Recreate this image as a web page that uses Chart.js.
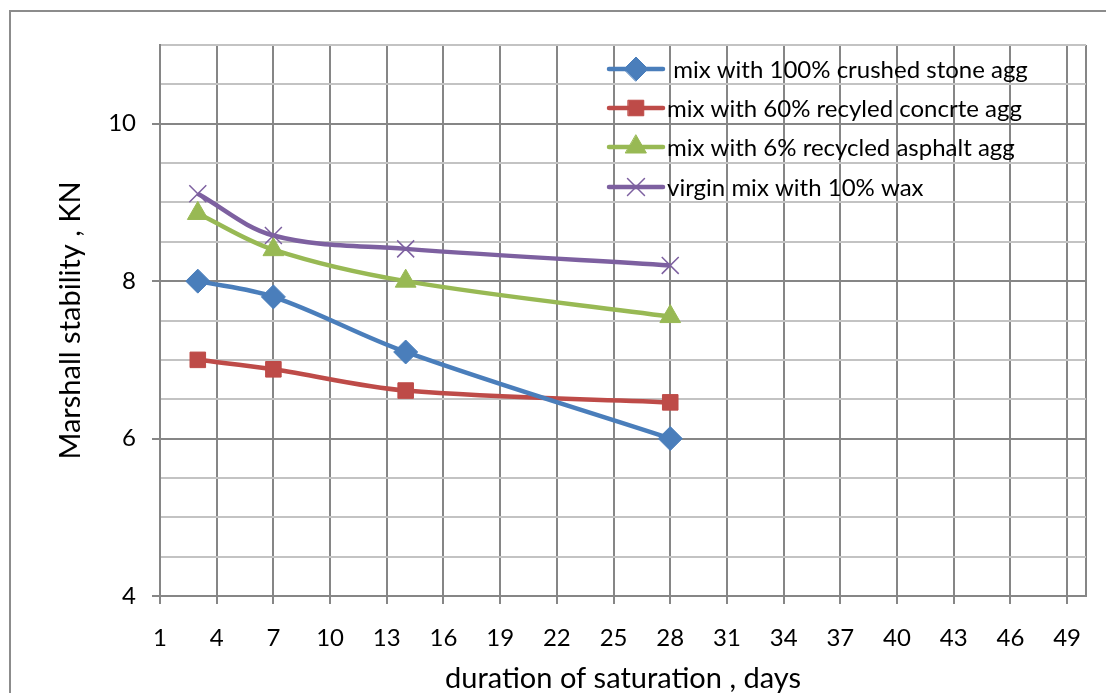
<!DOCTYPE html>
<html>
<head>
<meta charset="utf-8">
<script src="https://cdn.jsdelivr.net/npm/chart.js@4"></script>
<style>
  body { margin: 0; background: #fff; }
  #wrap { position: relative; width: 1106px; height: 693px; overflow: hidden; }
  #frame { position: absolute; left: 9px; top: 10px; width: 1200px; height: 800px;
           border-left: 2px solid #8c8c8c; border-top: 2px solid #8c8c8c; }
  canvas { position: absolute; left: 0; top: 0; }
</style>
</head>
<body>
<div id="wrap">
  <div id="frame"></div>
  <canvas id="chart1" width="1106" height="693"></canvas>
</div>
<script>
// duration of saturation (days)
const days = [3, 7, 14, 28];

// Marshall stability, KN
const crushedStone = [8.0, 7.8, 7.1, 6.0];
const recycledConcrete = [7.0, 6.88, 6.61, 6.46];
const recycledAsphalt = [8.86, 8.4, 8.0, 7.55];
const virginWax = [9.11, 8.58, 8.41, 8.2];

const seriesNames = [
  " mix with 100% crushed stone agg",
  "mix with 60% recyled concrte agg",
  "mix with 6% recycled asphalt agg",
  "virgin mix with 10% wax",
];

// axis ticks
const xTicks = [1, 4, 7, 10, 13, 16, 19, 22, 25, 28, 31, 34, 37, 40, 43, 46, 49];
const xMin = 1, xMax = 50;
const yMin = 4, yMax = 11, yLabelStep = 2, yGridStep = 0.5;

const FONT = "Lato, 'Open Sans', sans-serif";

function pts(ys) {
  return days.map((d, i) => ({ x: d, y: ys[i] }));
}

// legend drawn inside the plot, like the original
const insideLegend = {
  id: "insideLegend",
  afterDraw(chart) {
    const ctx = chart.ctx;
    const x0 = 609, x1 = 663, tx = 667;
    const rows = [69, 108, 147, 187];
    ctx.save();
    chart.data.datasets.forEach((ds, i) => {
      const y = rows[i];
      ctx.strokeStyle = ds.borderColor;
      ctx.lineWidth = 4.5;
      ctx.lineCap = "round";
      ctx.beginPath();
      ctx.moveTo(x0, y);
      ctx.lineTo(x1, y);
      ctx.stroke();
      ctx.fillStyle = ds.pointBackgroundColor;
      ctx.strokeStyle = ds.pointBorderColor;
      ctx.lineWidth = ds.pointBorderWidth;
      Chart.helpers.drawPoint(ctx, {
        pointStyle: ds.pointStyle,
        radius: ds.pointRadius,
        borderWidth: ds.pointBorderWidth,
        rotation: 0,
      }, (x0 + x1) / 2, y);
      ctx.fillStyle = "#000";
      ctx.font = "24px " + FONT;
      ctx.textBaseline = "middle";
      ctx.fillText(ds.label, tx, y + 1);
    });
    ctx.restore();
  },
};

const colors = ["#4a7ebb", "#be4b48", "#98b954", "#7d60a0"];
const styles = ["rectRot", "rect", "triangle", "crossRot"];
const radii = [12, 11, 12, 12];
const values = [crushedStone, recycledConcrete, recycledAsphalt, virginWax];

const datasets = values.map((v, i) => ({
  label: seriesNames[i],
  data: pts(v),
  borderColor: colors[i],
  backgroundColor: colors[i],
  pointBackgroundColor: colors[i],
  pointBorderColor: colors[i],
  pointStyle: styles[i],
  pointRadius: radii[i],
  pointBorderWidth: i === 3 ? 1.5 : 1,
  borderWidth: 4.5,
  tension: 0.35,
  fill: false,
}));

const majorGrid = "#868686";
const minorGrid = "#c3c3c3";

new Chart(document.getElementById("chart1").getContext("2d"), {
  type: "line",
  data: { datasets: datasets },
  plugins: [insideLegend],
  options: {
    responsive: false,
    animation: false,
    layout: { padding: { top: 45, right: 18, left: 0, bottom: 0 } },
    plugins: { legend: { display: false }, tooltip: { enabled: false } },
    scales: {
      x: {
        type: "linear",
        min: xMin,
        max: xMax,
        afterBuildTicks(scale) {
          scale.ticks = xTicks.concat([xMax]).map((v) => ({ value: v }));
        },
        afterFit(scale) { scale.height = 97; },
        ticks: {
          autoSkip: false,
          maxRotation: 0,
          padding: 20,
          color: "#000",
          font: { family: FONT, size: 24 },
          callback: (v) => (xTicks.includes(v) ? String(v) : ""),
        },
        grid: {
          color: majorGrid,
          lineWidth: 2,
          tickLength: 8,
          tickColor: (c) => (c.tick && xTicks.includes(c.tick.value) ? majorGrid : "rgba(0,0,0,0)"),
        },
        border: { color: majorGrid, width: 2 },
        title: {
          display: true,
          text: "duration of saturation , days",
          color: "#000",
          font: { family: FONT, size: 29, lineHeight: 1 },
          padding: { top: 0, bottom: 0 },
        },
      },
      y: {
        min: yMin,
        max: yMax,
        afterFit(scale) { scale.width = 160; },
        ticks: {
          stepSize: yGridStep,
          autoSkip: false,
          padding: 16,
          color: "#000",
          font: { family: FONT, size: 24 },
          callback: (v) => (v % yLabelStep === 0 ? String(v) : ""),
        },
        grid: {
          color: (c) => (c.tick && c.tick.value % yLabelStep === 0 ? majorGrid : minorGrid),
          lineWidth: 2,
          tickLength: 8,
          tickColor: (c) => (c.tick && c.tick.value % yLabelStep === 0 ? majorGrid : "rgba(0,0,0,0)"),
        },
        border: { color: majorGrid, width: 2 },
        title: {
          display: true,
          text: "Marshall stability , KN",
          color: "#000",
          font: { family: FONT, size: 29, lineHeight: 1 },
          padding: { top: 56, bottom: 0 },
        },
      },
    },
  },
});
</script>
</body>
</html>
